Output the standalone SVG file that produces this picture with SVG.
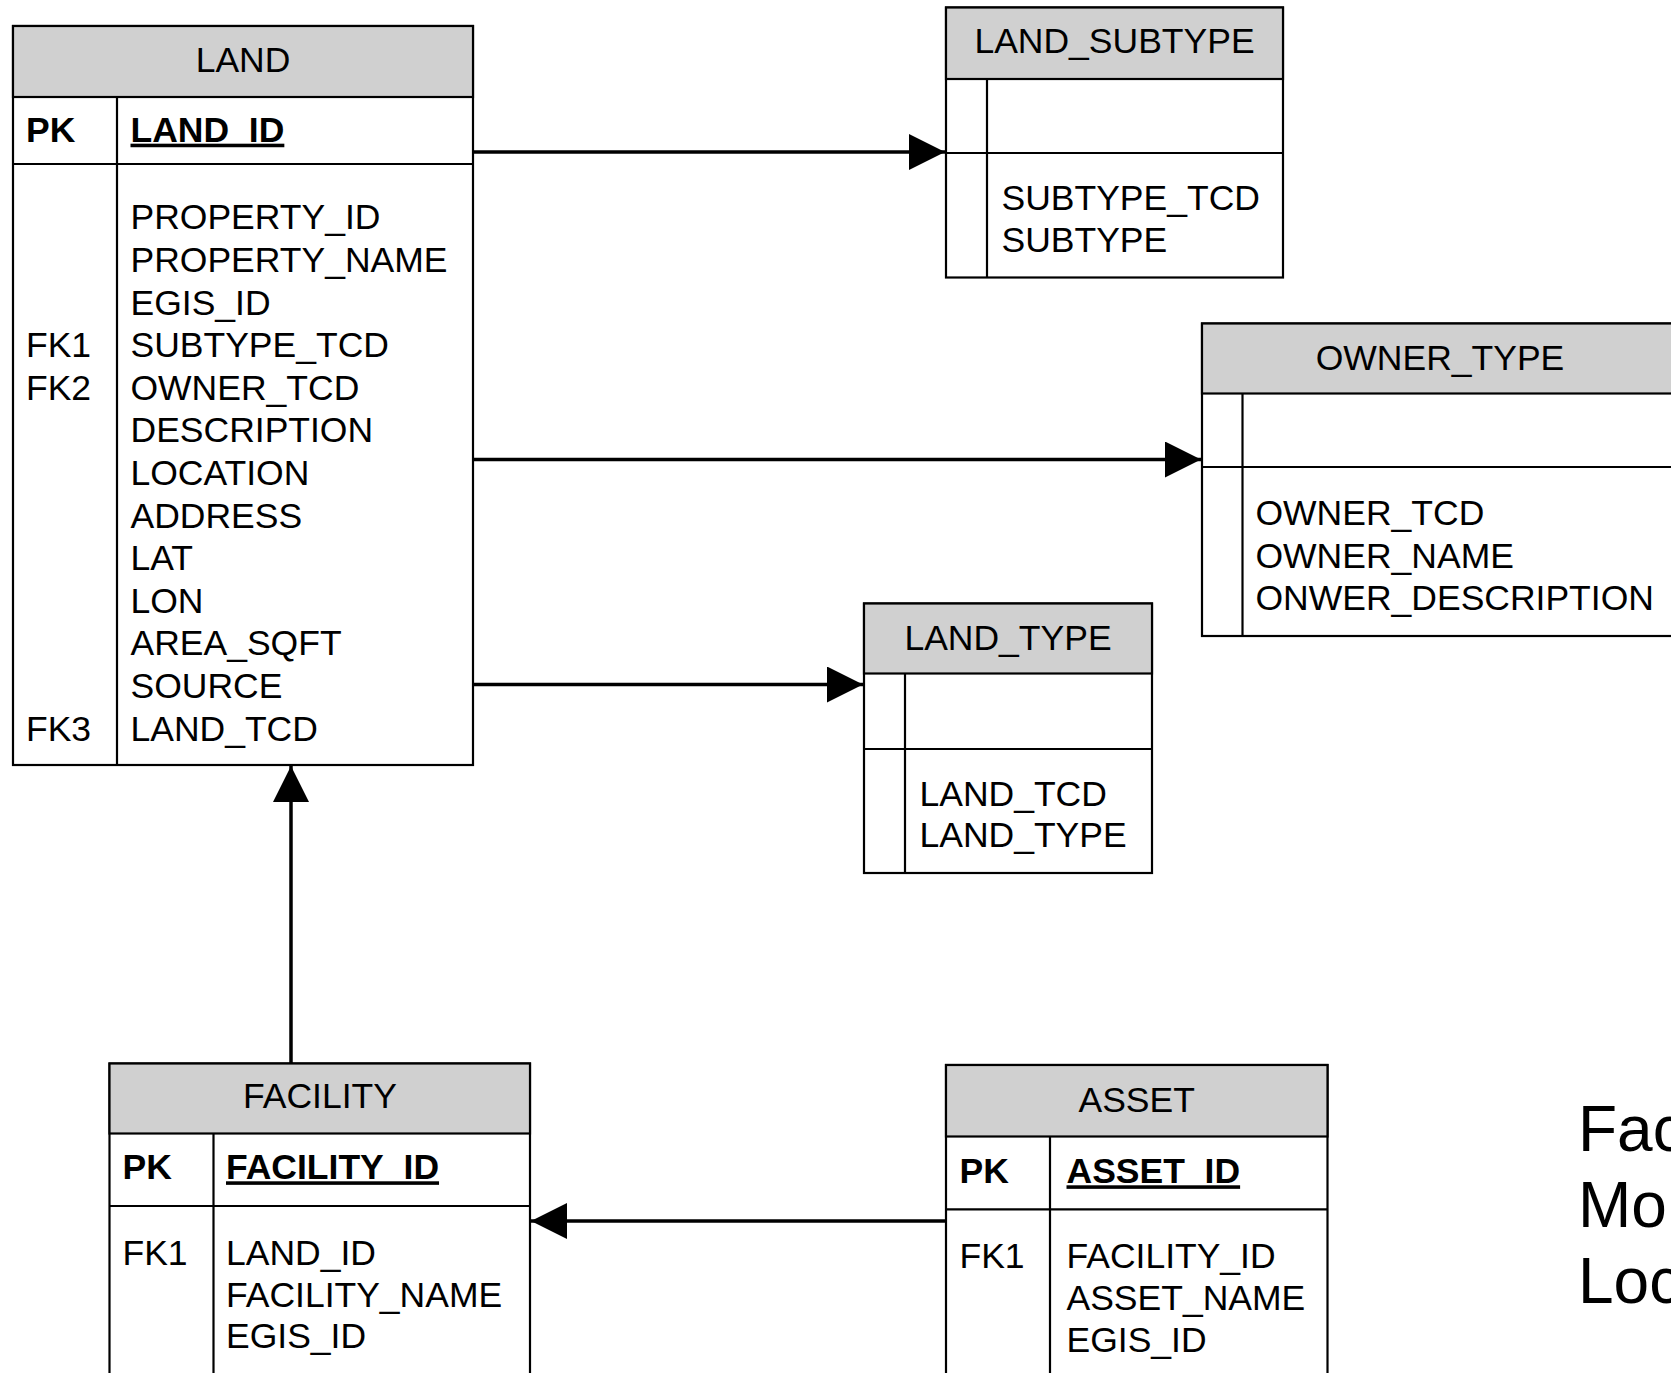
<svg xmlns="http://www.w3.org/2000/svg" width="1671" height="1373" viewBox="0 0 1671 1373">
<style>
  .box { fill: #ffffff; stroke: #000000; stroke-width: 2.2; }
  .hdr { fill: #d0d0d0; stroke: #000000; stroke-width: 2.2; }
  .ln { stroke: #000000; stroke-width: 2.2; fill: none; }
  text { font-family: "Liberation Sans", Arial, sans-serif; font-size: 35.5px; fill: #000000; }
  .title { text-anchor: middle; }
  .b { font-weight: bold; }
  .u { font-weight: bold; text-decoration: underline; }
  .big { font-size: 64px; }
  .conn { stroke: #000000; stroke-width: 3.5; fill: none; }
</style>
<defs>
  <marker id="arrow" markerUnits="userSpaceOnUse" markerWidth="36" markerHeight="36" refX="36" refY="18" orient="auto">
    <path d="M0,0 L36,18 L0,36 Z" fill="#000000"/>
  </marker>
</defs>
<rect width="1671" height="1373" fill="#ffffff"/>

<g id="connectors">
  <path class="conn" d="M473,152 H945" marker-end="url(#arrow)"/>
  <path class="conn" d="M473,459.5 H1201" marker-end="url(#arrow)"/>
  <path class="conn" d="M473,684.5 H863" marker-end="url(#arrow)"/>
  <path class="conn" d="M291,1063 V766" marker-end="url(#arrow)"/>
  <path class="conn" d="M946,1221 H531" marker-end="url(#arrow)"/>
</g>

<g id="LAND">
  <rect class="box" x="13" y="26" width="460" height="739"/>
  <rect class="hdr" x="13" y="26" width="460" height="71"/>
  <line class="ln" x1="13" y1="164" x2="473" y2="164"/>
  <line class="ln" x1="117" y1="97" x2="117" y2="765"/>
  <text class="title" x="243" y="72">LAND</text>
  <text class="b" x="26" y="141.7">PK</text>
  <text class="u" x="130.5" y="141.7">LAND_ID</text>
  <text x="130.5" y="229.3">PROPERTY_ID</text>
  <text x="130.5" y="271.9">PROPERTY_NAME</text>
  <text x="130.5" y="314.5">EGIS_ID</text>
  <text x="26" y="357.1">FK1</text>
  <text x="130.5" y="357.1">SUBTYPE_TCD</text>
  <text x="26" y="399.7">FK2</text>
  <text x="130.5" y="399.7">OWNER_TCD</text>
  <text x="130.5" y="442.3">DESCRIPTION</text>
  <text x="130.5" y="484.9">LOCATION</text>
  <text x="130.5" y="527.5">ADDRESS</text>
  <text x="130.5" y="570.1">LAT</text>
  <text x="130.5" y="612.7">LON</text>
  <text x="130.5" y="655.3">AREA_SQFT</text>
  <text x="130.5" y="697.9">SOURCE</text>
  <text x="26" y="740.5">FK3</text>
  <text x="130.5" y="740.5">LAND_TCD</text>
</g>

<g id="LAND_SUBTYPE">
  <rect class="box" x="946" y="7.5" width="337" height="270"/>
  <rect class="hdr" x="946" y="7.5" width="337" height="71.5"/>
  <line class="ln" x1="946" y1="153" x2="1283" y2="153"/>
  <line class="ln" x1="987" y1="79" x2="987" y2="277.5"/>
  <text class="title" x="1114.5" y="53">LAND_SUBTYPE</text>
  <text x="1001.5" y="210">SUBTYPE_TCD</text>
  <text x="1001.5" y="251.7">SUBTYPE</text>
</g>

<g id="OWNER_TYPE">
  <rect class="box" x="1202" y="323.5" width="476" height="312.5"/>
  <rect class="hdr" x="1202" y="323.5" width="476" height="70"/>
  <line class="ln" x1="1202" y1="467" x2="1678" y2="467"/>
  <line class="ln" x1="1242.5" y1="393.5" x2="1242.5" y2="636"/>
  <text class="title" x="1440" y="370">OWNER_TYPE</text>
  <text x="1255.5" y="525">OWNER_TCD</text>
  <text x="1255.5" y="567.6">OWNER_NAME</text>
  <text x="1255.5" y="610.2">ONWER_DESCRIPTION</text>
</g>

<g id="LAND_TYPE">
  <rect class="box" x="864" y="603.5" width="288" height="269.5"/>
  <rect class="hdr" x="864" y="603.5" width="288" height="70"/>
  <line class="ln" x1="864" y1="749" x2="1152" y2="749"/>
  <line class="ln" x1="905" y1="673.5" x2="905" y2="873"/>
  <text class="title" x="1008" y="650">LAND_TYPE</text>
  <text x="919.5" y="806">LAND_TCD</text>
  <text x="919.5" y="847">LAND_TYPE</text>
</g>

<g id="FACILITY">
  <rect class="box" x="109.5" y="1063.5" width="420.5" height="340"/>
  <rect class="hdr" x="109.5" y="1063.5" width="420.5" height="70"/>
  <line class="ln" x1="109.5" y1="1206" x2="530" y2="1206"/>
  <line class="ln" x1="213.5" y1="1133.5" x2="213.5" y2="1403.5"/>
  <text class="title" x="320" y="1108.3">FACILITY</text>
  <text class="b" x="122.5" y="1179.3">PK</text>
  <text class="u" x="226" y="1179.3">FACILITY_ID</text>
  <text x="122.5" y="1265">FK1</text>
  <text x="226" y="1265">LAND_ID</text>
  <text x="226" y="1306.7">FACILITY_NAME</text>
  <text x="226" y="1348.3">EGIS_ID</text>
</g>

<g id="ASSET">
  <rect class="box" x="946" y="1065" width="381.5" height="340"/>
  <rect class="hdr" x="946" y="1065" width="381.5" height="71.5"/>
  <line class="ln" x1="946" y1="1209.3" x2="1327.5" y2="1209.3"/>
  <line class="ln" x1="1050" y1="1136.5" x2="1050" y2="1405"/>
  <text class="title" x="1136.7" y="1111.7">ASSET</text>
  <text class="b" x="959.5" y="1183.3">PK</text>
  <text class="u" x="1066.5" y="1183.3">ASSET_ID</text>
  <text x="959.5" y="1268.3">FK1</text>
  <text x="1066.5" y="1268.3">FACILITY_ID</text>
  <text x="1066.5" y="1310">ASSET_NAME</text>
  <text x="1066.5" y="1351.7">EGIS_ID</text>
</g>

<g id="caption">
  <text class="big" x="1578" y="1150.7">Fac</text>
  <text class="big" x="1578" y="1226.7">Mo</text>
  <text class="big" x="1578" y="1303.3">Loc</text>
</g>
</svg>
